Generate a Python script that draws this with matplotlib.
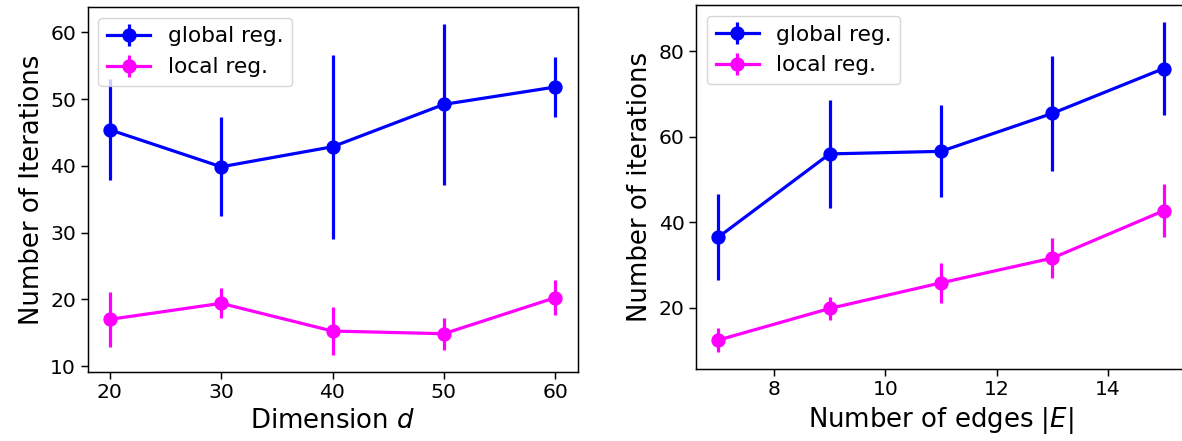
import matplotlib
matplotlib.use("Agg")
import matplotlib.pyplot as plt

# left panel: iterations vs dimension
dims = [20, 30, 40, 50, 60]
glob_d = [45.4, 39.85, 42.85, 49.2, 51.8]
glob_d_err = [7.6, 7.4, 13.8, 12.1, 4.5]
loc_d = [17.0, 19.4, 15.25, 14.85, 20.25]
loc_d_err = [4.1, 2.25, 3.65, 2.4, 2.6]

# right panel: iterations vs number of edges
edges = [7, 9, 11, 13, 15]
glob_e = [36.5, 56.0, 56.6, 65.5, 76.0]
glob_e_err = [10.0, 12.6, 10.8, 13.5, 11.0]
loc_e = [12.4, 19.8, 25.8, 31.6, 42.7]
loc_e_err = [2.9, 2.8, 4.7, 4.6, 6.2]

W, H = 1182, 441
fig = plt.figure(figsize=(W / 100, H / 100), dpi=100)

ax1 = fig.add_axes([87.5 / W, 1 - 372 / H, 490 / W, 365 / H])
ax2 = fig.add_axes([696 / W, 1 - 369 / H, 490 / W, 364 / H])

style = dict(marker="o", markersize=9.3, linewidth=2.3, elinewidth=2.3)

for ax, x, g, ge, l, le in [(ax1, dims, glob_d, glob_d_err, loc_d, loc_d_err),
                             (ax2, edges, glob_e, glob_e_err, loc_e, loc_e_err)]:
    ax.errorbar(x, g, yerr=ge, color="#0000ff", label="global reg.", **style)
    ax.errorbar(x, l, yerr=le, color="#ff00ff", label="local reg.", **style)
    ax.legend(loc="upper left", fontsize=15.6)
    ax.tick_params(labelsize=14.7, length=4.7, width=1.07)
    for s in ax.spines.values():
        s.set_linewidth(1.07)

ax1.set_xticks(dims)
ax1.set_yticks([10, 20, 30, 40, 50, 60])
ax1.set_xlabel("Dimension $d$", fontsize=18.7)
ax1.set_ylabel("Number of Iterations", fontsize=18.7)

ax2.set_xticks([8, 10, 12, 14])
ax2.set_yticks([20, 40, 60, 80])
ax2.set_xlabel("Number of edges $|E|$", fontsize=18.7)
ax2.set_ylabel("Number of iterations", fontsize=18.7)

fig.savefig("out.png", dpi=100)
